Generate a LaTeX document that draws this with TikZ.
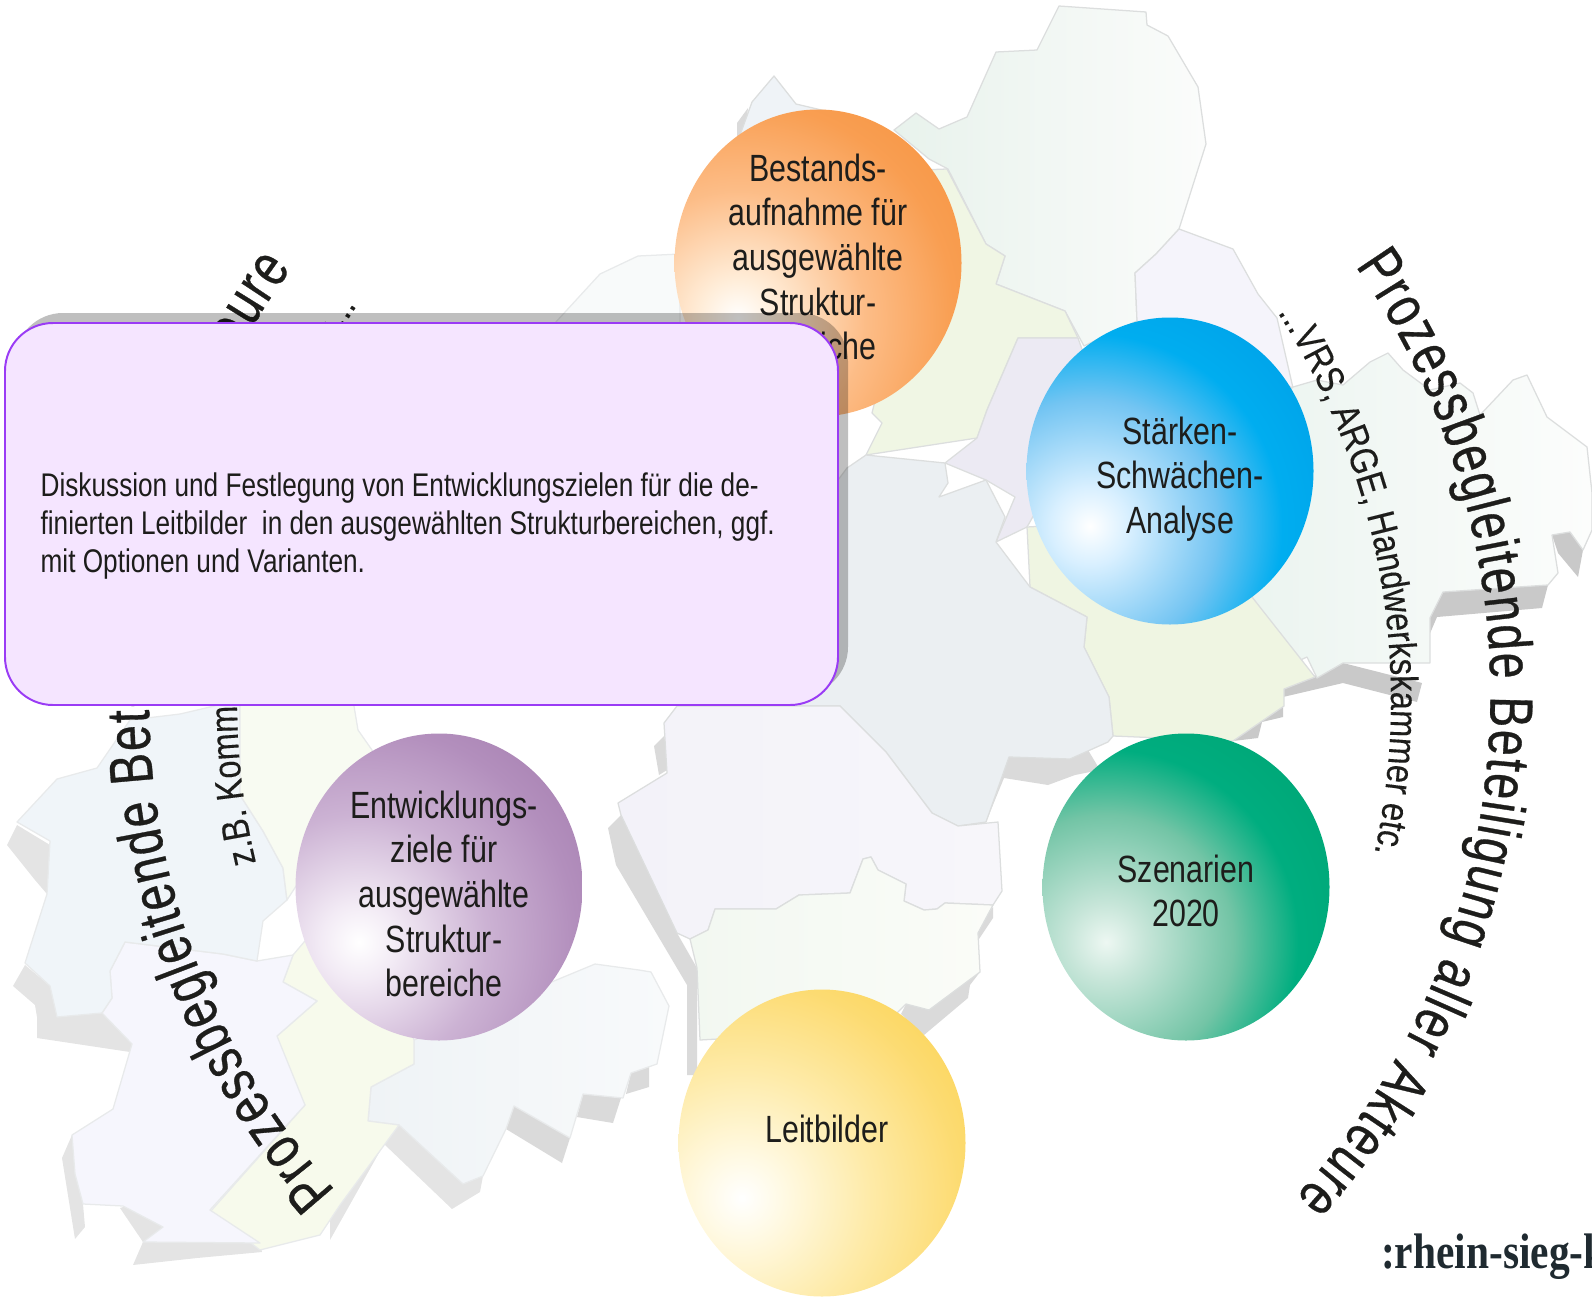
\documentclass[tikz,border=0pt]{standalone}
\usepackage{fontspec}
\usetikzlibrary{decorations.text}
\setmainfont[FakeStretch=0.8]{Liberation Sans}
\newfontfamily\arcfont[FakeStretch=0.76,FakeBold=0.5]{Liberation Sans}
\newfontfamily\smallarcfont[FakeStretch=0.84,FakeBold=0.2]{Liberation Sans}
\newfontfamily\brandfont[FakeStretch=0.83]{Liberation Serif}
\definecolor{ink}{HTML}{1D1D1B}
\definecolor{brandink}{HTML}{1F2A30}
\definecolor{popupedge}{HTML}{9A3BF5}
\definecolor{popupfill}{HTML}{F5E5FF}
\definecolor{mapedge}{HTML}{DCDEDE}
\definecolor{mapedgesoft}{HTML}{E8EAEB}
\definecolor{mapshadow}{HTML}{DADADA}
\definecolor{mapshadowsoft}{HTML}{E4E4E4}
\definecolor{mapshadowdark}{HTML}{C9C9C9}
\pgfdeclareradialshading{orborange}{\pgfpointorigin}{color(0bp)=(white); rgb(3.2bp)=(1,.93,.85); rgb(10.6bp)=(.99,.74,.53); rgb(18bp)=(.975,.62,.32); rgb(27bp)=(.965,.56,.22); rgb(50bp)=(.965,.56,.22)}
\pgfdeclareradialshading{orbblue}{\pgfpointorigin}{color(0bp)=(white); rgb(3.2bp)=(.85,.94,1); rgb(10.6bp)=(.45,.77,.95); rgb(16bp)=(0,.68,.94); rgb(27bp)=(0,.60,.89); rgb(50bp)=(0,.60,.89)}
\pgfdeclareradialshading{orbgreen}{\pgfpointorigin}{rgb(0bp)=(.93,.97,.95); rgb(3.2bp)=(.78,.90,.85); rgb(10.6bp)=(.45,.77,.65); rgb(16bp)=(0,.68,.50); rgb(27bp)=(0,.63,.43); rgb(50bp)=(0,.63,.43)}
\pgfdeclareradialshading{orbyellow}{\pgfpointorigin}{color(0bp)=(white); rgb(3.2bp)=(1,.98,.90); rgb(10.6bp)=(.995,.92,.66); rgb(18bp)=(.99,.86,.45); rgb(27bp)=(.99,.81,.25); rgb(50bp)=(.99,.81,.25)}
\pgfdeclareradialshading{orbviolet}{\pgfpointorigin}{color(0bp)=(white); rgb(3.2bp)=(.95,.92,.96); rgb(10.6bp)=(.80,.70,.83); rgb(18bp)=(.70,.56,.74); rgb(27bp)=(.62,.46,.66); rgb(50bp)=(.62,.46,.66)}
\tikzset{
  region/.style={draw=mapedge,line width=1.8pt,line join=round},
  softregion/.style={draw=mapedgesoft,line width=1.8pt,line join=round},
  mapshade/.style={fill=mapshadow,draw=none},
  softshade/.style={fill=mapshadowsoft,draw=none},
  mapshadedark/.style={fill=mapshadowdark,draw=none},
  orbtext/.style={align=center,text=ink,font=\fontsize{54}{63.6}\selectfont},
}
\begin{document}
\begin{tikzpicture}[x=0.05cm,y=-0.05cm]
\useasboundingbox (0,0) rectangle (1592,1303);
\clip (0,0) rectangle (1592,1303);

% map shadows
\fill[mapshadedark] (1443,592)--(1548,585)--(1542,608)--(1437,617)--(1425,645)--(1425,618)--cycle;
\fill[mapshadedark] (1552,535)--(1570,532)--(1583,550)--(1578,577)--(1558,553)--cycle;
\fill[mapshadedark] (1343,663)--(1422,683)--(1417,702)--(1343,683)--(1283,697)--(1283,717)--(1262,722)--(1258,738)--(1225,742)--(1260,708)--(1284,689)--cycle;
\fill[mapshade] (664,736)--(654,746)--(659,775)--(672,767)--cycle;
\fill[mapshade] (621,815)--(608,828)--(616,865)--(687,985)--(687,1075)--(697,1075)--(697,968)--(677,933)--cycle;
\fill[mapshade] (1009,757)--(1070,759)--(1085,745)--(1100,770)--(1075,775)--(1048,785)--(1004,778)--(986,822)--cycle;
\fill[mapshade] (993,907)--(993,918)--(975,945)--(973,933)--cycle;
\fill[mapshade] (970,985)--(968,998)--(924,1035)--(901,1014)--(906,1004)--(929,1010)--(980,972)--cycle;
\fill[mapshade] (631,1073)--(649,1065)--(649,1087)--(626,1094)--cycle;
\fill[mapshade] (583,1094)--(621,1098)--(613,1123)--(577,1117)--cycle;
\fill[mapshade] (514,1106)--(570,1138)--(562,1163)--(506,1129)--cycle;
\fill[softshade] (399,1125)--(463,1184)--(483,1176)--(480,1192)--(452,1209)--(384,1144)--(330,1240)--(330,1201)--cycle;
\fill[softshade] (17,825)--(7,845)--(35,880)--(47,894)--(50,845)--cycle;
\fill[softshade] (25,965)--(13,986)--(35,1005)--(37,1017)--(57,1017)--(50,986)--cycle;
\fill[softshade] (37,1013)--(37,1038)--(130,1052)--(132,1044)--(102,1013)--cycle;
\fill[softshade] (72,1135)--(62,1158)--(75,1239)--(85,1227)--(83,1204)--cycle;
\fill[softshade] (120,1208)--(133,1204)--(163,1227)--(143,1242)--(133,1265)--(197,1258)--(262,1252)--(260,1243)--(143,1242)--cycle;
\fill[mapshade] (737,140)--(737,123)--(748,108)--(745,135)--cycle;

% map regions
\definecolor{mrA}{HTML}{E8F2EC}\definecolor{mrB}{HTML}{FBFCFB}
\shadedraw[region,left color=mrA,right color=mrB]
 (1037,50)--(1059,6)--(1146,12)--(1147,25)--(1168,36)--(1198,87)--(1206,144)--(1179,229)--(1156,254)--(1135,273)--(1137,321)--(1084,346)--(1065,311)--(996,284)--(1005,256)--(986,244)--(948,169)--(929,159)--(894,130)--(916,113)--(939,129)--(967,117)--(996,52)--cycle;
\definecolor{mrC}{HTML}{F8FAFA}
\filldraw[softregion,fill=mrC]
 (555,323)--(600,274)--(638,256)--(680,254)--(680,323)--cycle;
\definecolor{mrD}{HTML}{EFF3F7}
\filldraw[region,fill=mrD]
 (740,135)--(752,102)--(774,76)--(796,104)--(830,112)--(820,140)--cycle;
\definecolor{mrE}{HTML}{F0F6E4}
\filldraw[region,fill=mrE]
 (920,170)--(947,169)--(986,244)--(1005,256)--(996,284)--(1065,311)--(1078,338)--(1018,338)--(987,410)--(977,438)--(866,455)--(882,423)--(872,413)--(900,300)--cycle;
\definecolor{mrF}{HTML}{ECEAF3}
\filldraw[region,fill=mrF]
 (1018,338)--(1078,338)--(1100,400)--(1027,527)--(996,542)--(1015,497)--(986,480)--(945,463)--(977,438)--(987,410)--cycle;
\definecolor{mrG}{HTML}{F5F4FB}
\filldraw[region,fill=mrG]
 (1179,229)--(1233,249)--(1258,294)--(1277,318)--(1293,388)--(1137,321)--(1135,273)--(1156,254)--cycle;
\definecolor{mrH}{HTML}{E9F3EE}\definecolor{mrI}{HTML}{FCFDFC}
\shadedraw[region,left color=mrH,right color=mrI]
 (1293,387)--(1317,380)--(1343,385)--(1370,362)--(1388,353)--(1403,370)--(1430,390)--(1460,383)--(1473,393)--(1480,415)--(1513,380)--(1527,375)--(1547,417)--(1587,447)--(1592,493)--(1592,530)--(1583,550)--(1570,532)--(1552,535)--(1558,573)--(1548,585)--(1443,592)--(1430,618)--(1430,663)--(1343,663)--(1317,678)--(1307,657)--(1285,667)--(1252,600)--(1200,480)--cycle;
\definecolor{mrJ}{HTML}{EFF5E2}
\filldraw[region,fill=mrJ]
 (1027,527)--(1030,587)--(1087,617)--(1084,647)--(1109,697)--(1113,736)--(1233,741)--(1284,706)--(1284,689)--(1315,677)--(1252,597)--(1150,520)--cycle;
\definecolor{mrK}{HTML}{EBEFF2}
\filldraw[region,fill=mrK]
 (838,480)--(847,468)--(866,455)--(945,463)--(948,483)--(939,497)--(986,480)--(1005,517)--(996,542)--(1030,587)--(1087,617)--(1084,647)--(1109,697)--(1113,736)--(1108,742)--(1070,759)--(1009,757)--(986,822)--(958,826)--(932,813)--(886,752)--(840,706)--(760,706)--cycle;
\definecolor{mrL}{HTML}{F3F2F9}\definecolor{mrM}{HTML}{F7F6FA}
\shadedraw[region,left color=mrL,right color=mrM]
 (664,723)--(677,706)--(840,706)--(886,752)--(932,813)--(958,826)--(998,822)--(1002,891)--(993,905)--(945,903)--(937,909)--(924,910)--(904,901)--(906,884)--(878,870)--(871,857)--(863,859)--(850,893)--(799,895)--(776,909)--(715,909)--(708,930)--(690,939)--(677,933)--(621,815)--(618,803)--(667,773)--cycle;
\definecolor{mrN}{HTML}{F2F8F1}\definecolor{mrO}{HTML}{FBFCF8}
\shadedraw[region,left color=mrN,right color=mrO]
 (690,939)--(708,930)--(715,909)--(776,909)--(799,895)--(850,893)--(863,859)--(871,857)--(878,870)--(906,884)--(904,901)--(924,910)--(937,909)--(945,903)--(993,905)--(978,933)--(980,972)--(929,1010)--(906,1004)--(880,1030)--(700,1040)--(697,968)--cycle;
\definecolor{mrP}{HTML}{EFF3F6}\definecolor{mrQ}{HTML}{F8FAFB}
\shadedraw[softregion,left color=mrP,right color=mrQ]
 (414,1040)--(554,981)--(595,964)--(639,970)--(651,972)--(669,1006)--(657,1064)--(631,1073)--(623,1098)--(583,1094)--(570,1138)--(514,1106)--(506,1129)--(483,1176)--(463,1184)--(399,1125)--(368,1121)--(371,1087)--(414,1064)--cycle;
\definecolor{mrR}{HTML}{F7FAEC}
\filldraw[softregion,fill=mrR]
 (283,982)--(293,955)--(310,935)--(400,1000)--(414,1040)--(414,1064)--(371,1087)--(368,1121)--(399,1125)--(340,1205)--(320,1235)--(260,1250)--(210,1212)--(305,1105)--(283,1070)--(277,1036)--(317,1001)--cycle;
\definecolor{mrS}{HTML}{F6F6FD}
\filldraw[softregion,fill=mrS]
 (125,942)--(110,971)--(112,998)--(102,1013)--(132,1044)--(113,1109)--(72,1135)--(75,1174)--(83,1204)--(123,1206)--(163,1227)--(143,1242)--(260,1243)--(210,1210)--(305,1105)--(277,1036)--(317,1001)--(283,982)--(293,955)--(257,961)--(223,954)--cycle;
\definecolor{mrT}{HTML}{F0F5F9}
\filldraw[softregion,fill=mrT]
 (180,714)--(130,720)--(97,768)--(57,779)--(17,822)--(50,841)--(47,894)--(25,963)--(50,986)--(57,1017)--(102,1013)--(112,998)--(110,971)--(125,942)--(223,954)--(257,961)--(263,921)--(287,900)--(283,868)--(263,831)--(240,795)--(240,700)--cycle;
\definecolor{mrU}{HTML}{F8FBF2}
\filldraw[softregion,fill=mrU]
 (240,700)--(353,700)--(358,730)--(372,750)--(400,860)--(300,880)--(287,900)--(283,868)--(263,831)--(240,795)--cycle;

% arc captions
\path[decorate,decoration={text along path,text align=fit to path,
  text={|\fontsize{87}{100}\selectfont\arcfont\color{ink}|Prozessbegleitende Beteiligung aller Akteure{ }}}]
  (743.7,694.3) ++(-35:746.7) arc[start angle=-35,end angle=43.4,radius=746.7];
\path[decorate,decoration={text along path,text align=fit to path,
  text={|\fontsize{87}{100}\selectfont\arcfont\color{ink}|Prozessbegleitende Beteiligung aller Akteure{ }}}]
  (881.5,702.4) ++(138.2:732.5) arc[start angle=138.2,end angle=217.4,radius=732.5];
\path[decorate,decoration={text along path,text align=fit to path,
  text={|\fontsize{55}{64}\selectfont\smallarcfont\color{ink}|...VRS, ARGE, Handwerkskammer etc.{ }}}]
  (672,700) ++(-32.6:719) arc[start angle=-32.6,end angle=12.3,radius=719];
\path[decorate,decoration={text along path,
  text={|\fontsize{55}{64}\selectfont\smallarcfont\color{ink}|z.B. Komm}}]
  (945,700) ++(166.7:708) arc[start angle=166.7,end angle=182,radius=708];
\path[decorate,decoration={text along path,
  text={|\fontsize{55}{64}\selectfont\smallarcfont\color{ink}|e...}}]
  (945,700) ++(210.2:708) arc[start angle=210.2,end angle=216,radius=708];

\node[anchor=base west,inner sep=0pt,text=brandink,font=\fontsize{71}{80}\selectfont\brandfont\bfseries] (brand) at (1381,1268) {:rhein-sieg-k};

% orbs
\begin{scope}
  \clip (818,263) ellipse [x radius=143.5,y radius=153.5];
  \shade[shading=orborange] (738,318) ellipse [x radius=300,y radius=300];
\end{scope}
\node[orbtext] (bestand) at (818,257) {Bestands-\\aufnahme für\\ausgewählte\\Struktur-\\bereiche};
\begin{scope}
  \clip (1170,471) ellipse [x radius=143.5,y radius=153.5];
  \shade[shading=orbblue] (1090,526) ellipse [x radius=300,y radius=300];
\end{scope}
\node[orbtext] (staerken) at (1180,479) {Stärken-\\Schwächen-\\Analyse};
\begin{scope}
  \clip (1186,887) ellipse [x radius=143.5,y radius=153.5];
  \shade[shading=orbgreen] (1106,942) ellipse [x radius=300,y radius=300];
\end{scope}
\node[orbtext] (szenarien) at (1186,891) {Szenarien\\2020};
\begin{scope}
  \clip (822,1143) ellipse [x radius=143.5,y radius=153.5];
  \shade[shading=orbyellow] (742,1198) ellipse [x radius=300,y radius=300];
\end{scope}
\node[orbtext] (leitbilder) at (827,1129) {Leitbilder};
\begin{scope}
  \clip (439,887) ellipse [x radius=143.5,y radius=153.5];
  \shade[shading=orbviolet] (359,942) ellipse [x radius=300,y radius=300];
\end{scope}
\node[orbtext] (entwicklung) at (444,894) {Entwicklungs-\\ziele für\\ausgewählte\\Struktur-\\bereiche};

% popup box
\fill[black,opacity=.25,rounded corners=2.4cm] (15,313) rectangle (848,695);
\draw[draw=popupedge,fill=popupfill,line width=2.8pt,rounded corners=2.4cm] (5,323) rectangle (838,705);
\node[anchor=west,align=left,inner sep=0pt,text=ink,font=\fontsize{46.6}{54.5}\selectfont] (popuptext) at (40.5,526)
 {Diskussion und Festlegung von Entwicklungszielen für die de-\\finierten Leitbilder\ \ in den ausgewählten Strukturbereichen, ggf.\\mit Optionen und Varianten.};
\end{tikzpicture}
\end{document}
